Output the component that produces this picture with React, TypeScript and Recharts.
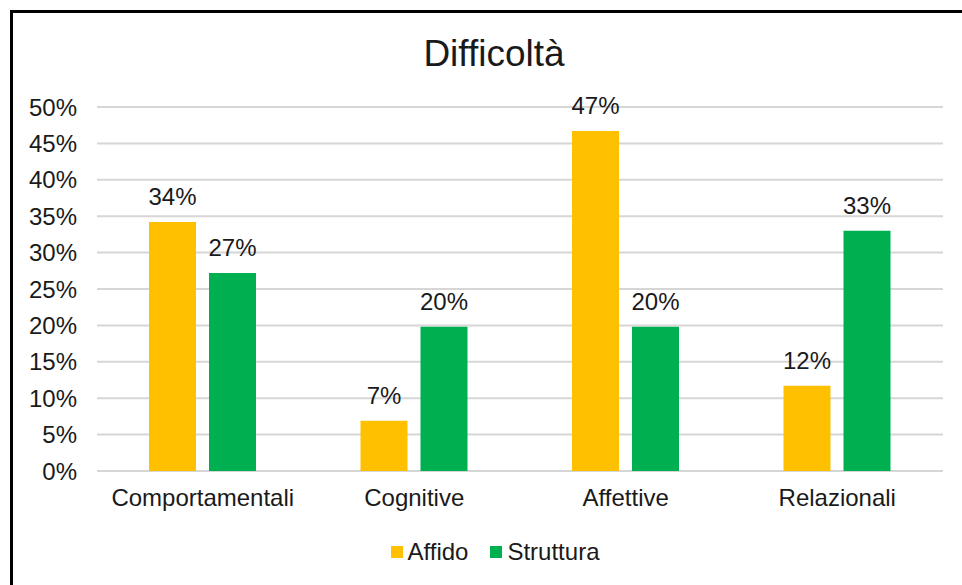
import { Bar, BarChart, CartesianGrid, LabelList, Legend, XAxis, YAxis } from "recharts";

const categories = ["Comportamentali", "Cognitive", "Affettive", "Relazionali"];
const affido = [34.2, 6.9, 46.7, 11.7];
const struttura = [27.2, 19.8, 19.8, 33.0];
const yTicks = [0, 5, 10, 15, 20, 25, 30, 35, 40, 45, 50];

const FONT = "'Liberation Sans', Arial, sans-serif";
const TEXT = "#1a1a1a";
const FS = 24;

const data = categories.map((name, i) => ({
  name,
  affido: affido[i],
  struttura: struttura[i],
}));

const pct = (v: unknown) => `${Math.round(Number(v))}%`;

const legendItems = [
  { label: "Affido", color: "#FFC000" },
  { label: "Struttura", color: "#00B050" },
];

function ChartLegend() {
  return (
    <div
      style={{
        display: "flex",
        justifyContent: "center",
        alignItems: "center",
        fontFamily: FONT,
        fontSize: FS,
        lineHeight: "28px",
        height: 28,
        color: TEXT,
        gap: 22,
      }}
    >
      {legendItems.map((item) => (
        <span key={item.label} style={{ display: "flex", alignItems: "center" }}>
          <span
            style={{
              width: 12,
              height: 12,
              background: item.color,
              marginRight: 5,
              display: "inline-block",
            }}
          />
          {item.label}
        </span>
      ))}
    </div>
  );
}

export default function App() {
  return (
    <div
      style={{
        position: "absolute",
        left: 0,
        top: 0,
        width: 962,
        height: 585,
        background: "#fff",
        overflow: "hidden",
      }}
    >
      <div
        style={{
          position: "absolute",
          left: 10,
          top: 10,
          width: 962,
          height: 585,
          borderTop: "3px solid #000",
          borderLeft: "3px solid #000",
        }}
      />
      <div
        style={{
          position: "absolute",
          left: 19,
          width: 950,
          top: 33,
          textAlign: "center",
          fontFamily: FONT,
          fontSize: 37,
          color: TEXT,
        }}
      >
        Difficoltà
      </div>
      <div style={{ position: "absolute", left: 0, top: 0 }}>
        <BarChart
          width={962}
          height={585}
          data={data}
          margin={{ top: 107, right: 19, bottom: 46, left: 12 }}
          barSize={47}
          barGap={13}
        >
          <CartesianGrid vertical={false} stroke="#d6d6d6" strokeWidth={2} />
          <XAxis
            dataKey="name"
            axisLine={false}
            tickLine={false}
            tickSize={0}
            tickMargin={18}
            tick={{ fontSize: FS, fill: TEXT, fontFamily: FONT }}
            height={40}
          />
          <YAxis
            width={85}
            domain={[0, 50]}
            ticks={yTicks}
            tickFormatter={pct}
            axisLine={false}
            tickLine={false}
            tickSize={0}
            tickMargin={20}
            tick={{ fontSize: FS, fill: TEXT, fontFamily: FONT }}
          />
          <Legend
            verticalAlign="bottom"
            wrapperStyle={{ top: 538, left: 14, width: 962 }}
            content={() => <ChartLegend />}
          />
          <Bar dataKey="affido" name="Affido" fill="#FFC000" isAnimationActive={false}>
            <LabelList
              dataKey="affido"
              position="top"
              offset={17}
              formatter={pct}
              style={{ fontSize: FS, fill: TEXT, fontFamily: FONT }}
            />
          </Bar>
          <Bar dataKey="struttura" name="Struttura" fill="#00B050" isAnimationActive={false}>
            <LabelList
              dataKey="struttura"
              position="top"
              offset={17}
              formatter={pct}
              style={{ fontSize: FS, fill: TEXT, fontFamily: FONT }}
            />
          </Bar>
        </BarChart>
      </div>
    </div>
  );
}
